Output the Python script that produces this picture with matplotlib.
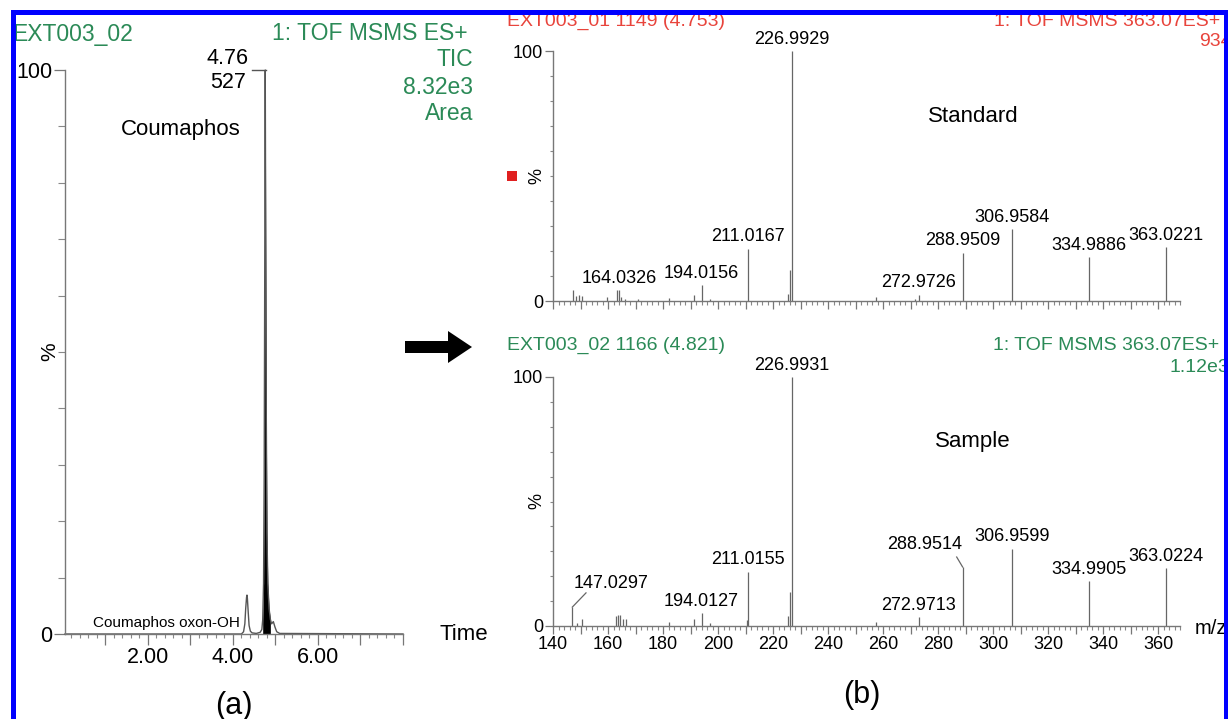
import numpy as np
import matplotlib
matplotlib.use("Agg")
import matplotlib.pyplot as plt
import matplotlib.patches as patches
from matplotlib.ticker import MultipleLocator, FixedLocator, FuncFormatter

plt.rcParams['font.family'] = ['Liberation Sans', 'DejaVu Sans']

W, H = 1228, 719
GREEN = '#2b8a57'
RED = '#e8443c'
GRAY = '#666666'

# chromatogram (a): retention time (min) vs. relative intensity (%)
tic_t = [0.05, 4.20, 4.25, 4.28, 4.30, 4.32, 4.33, 4.34, 4.36, 4.38, 4.41, 4.45, 4.55,
         4.64, 4.68, 4.70, 4.72, 4.735, 4.75, 4.76, 4.77, 4.785, 4.80, 4.82, 4.85, 4.88,
         4.91, 4.95, 4.99, 5.03, 5.10, 8.0]
tic_y = [0, 0, 0.4, 1.8, 4.5, 6.5, 6.9, 6.3, 3.8, 1.5, 0.5, 0.2, 0.1,
         0.3, 0.8, 2.5, 9, 28, 70, 100, 72, 38, 18, 9, 4.5, 2.6,
         1.8, 2.2, 1.2, 0.4, 0.1, 0]

# MS/MS spectrum of the standard
std_mz = [147.3, 148.5, 149.3, 150.4, 159.6, 163.3, 164.03, 164.7, 166.0, 171.0, 182.0,
          191.3, 194.02, 197.0, 211.02, 225.5, 226.2, 226.99, 257.5, 271.6, 272.97,
          288.95, 306.96, 334.99, 363.02]
std_int = [4.3, 2.0, 2.3, 2.2, 1.6, 4.3, 4.3, 1.5, 1.0, 0.8, 1.2,
           2.6, 6.4, 1.0, 21.0, 3.0, 12.6, 100, 1.7, 1.0, 2.6,
           19.3, 28.8, 17.5, 21.6]
std_labels = [(164.03, 4.3, '164.0326'), (194.02, 6.4, '194.0156'), (211.02, 21.0, '211.0167'),
              (226.99, 100, '226.9929'), (272.97, 2.6, '272.9726'), (288.95, 19.3, '288.9509'),
              (306.96, 28.8, '306.9584'), (334.99, 17.5, '334.9886'), (363.02, 21.6, '363.0221')]

# MS/MS spectrum of the sample
smp_mz = [147.03, 148.6, 150.5, 163.0, 163.6, 164.4, 165.5, 166.5, 182.0, 191.3, 194.01,
          197.0, 210.5, 211.02, 225.4, 226.3, 226.99, 257.5, 272.97, 288.95, 306.96,
          334.99, 363.02]
smp_int = [7.6, 1.2, 2.8, 4.0, 4.4, 4.6, 2.8, 2.8, 1.6, 2.8, 5.2,
           1.2, 2.4, 21.7, 4.0, 13.6, 100, 1.6, 3.6, 23.7, 31.0,
           18.0, 23.3]
smp_labels = [(194.01, 5.2, '194.0127'), (211.02, 21.7, '211.0155'), (226.99, 100, '226.9931'),
              (272.97, 3.6, '272.9713'), (306.96, 31.0, '306.9599'), (334.99, 18.0, '334.9905'),
              (363.02, 23.3, '363.0224')]


def px(x, y):
    return x / W, 1 - y / H


def rect(l, t, r, b):
    return [l / W, 1 - b / H, (r - l) / W, (b - t) / H]


fig = plt.figure(figsize=(W / 100, H / 100), dpi=100)


def style_axes(ax, fs, ymaj, ymin):
    for s in ['top', 'right']:
        ax.spines[s].set_visible(False)
    for s in ['left', 'bottom']:
        ax.spines[s].set_color('#777777')
        ax.spines[s].set_linewidth(1.0)
    ax.set_ylim(0, 100)
    ax.yaxis.set_major_locator(FixedLocator([0, 100]))
    ax.yaxis.set_minor_locator(MultipleLocator(10))
    ax.tick_params(axis='y', which='major', length=ymaj, width=0.9, color='#777777',
                   labelsize=fs, pad=1)
    ax.tick_params(axis='y', which='minor', length=ymin, width=0.8, color='#888888')
    ax.patch.set_alpha(0)


# ---- (a) chromatogram ----
axa = fig.add_axes(rect(65, 70, 403, 634))
style_axes(axa, 15.5, 8, 5)
t = np.array(tic_t)
y = np.array(tic_y)
axa.plot(t, y, color='#555555', lw=1.0, clip_on=False)
axa.fill_between(t, y, where=(t >= 4.69) & (t <= 4.90), color='black', lw=0)
axa.set_xlim(0.05, 8.0)
axa.xaxis.set_major_locator(MultipleLocator(1.0))
axa.xaxis.set_minor_locator(MultipleLocator(0.2))
axa.xaxis.set_major_formatter(FuncFormatter(
    lambda v, p: '%.2f' % v if abs(v - round(v)) < 1e-6 and int(round(v)) in (2, 4, 6) else ''))
axa.tick_params(axis='x', which='major', length=8, width=0.9, color='#777777',
                labelsize=15.5, pad=1.5)
axa.tick_params(axis='x', which='minor', length=3, width=0.8, color='#888888')
axa.text(-0.045, 50, '%', rotation=90, ha='center', va='center', fontsize=15,
         transform=axa.get_yaxis_transform())
axa.plot([4.45, 4.78], [100, 100], color='#555555', lw=1.0, clip_on=False)
axa.text(4.36, 102, '4.76', ha='right', va='center', fontsize=15.5)
axa.text(4.31, 97.7, '527', ha='right', va='center', fontsize=15.5)
axa.text(2.78, 89.5, 'Coumaphos', ha='center', va='center', fontsize=16)
axa.text(4.16, 2, 'Coumaphos oxon-OH', ha='right', va='center', fontsize=11)
fig.text(*px(440, 634), 'Time', ha='left', va='center', fontsize=16)

# ---- (b) spectra ----
ax_std = fig.add_axes(rect(553, 51, 1180, 301))
ax_smp = fig.add_axes(rect(553, 377, 1180, 626))
for ax, mz, inten, labels in [(ax_std, std_mz, std_int, std_labels),
                              (ax_smp, smp_mz, smp_int, smp_labels)]:
    style_axes(ax, 13, 6, 2.2)
    ax.vlines(mz, 0, inten, color=GRAY, lw=0.9)
    ax.set_xlim(140, 368)
    ax.xaxis.set_major_locator(MultipleLocator(10))
    ax.xaxis.set_minor_locator(MultipleLocator(2))
    ax.tick_params(axis='x', which='major', length=6, width=0.9, color='#777777',
                   labelsize=13, pad=1.5)
    ax.tick_params(axis='x', which='minor', length=3, width=0.8, color='#888888')
    ax.text(-0.025, 50, '%', rotation=90, ha='center', va='center', fontsize=13,
            transform=ax.get_yaxis_transform())
    for m, h, s in labels:
        ax.annotate(s, xy=(m, h), xytext=(0, 2.5), textcoords='offset points',
                    ha='center', va='bottom', fontsize=13, annotation_clip=False)

ax_std.xaxis.set_major_formatter(FuncFormatter(lambda v, p: ''))
ax_smp.xaxis.set_major_formatter(FuncFormatter(
    lambda v, p: '%d' % v if int(round(v)) % 20 == 0 else ''))

# leader-line labels in the sample spectrum
ax_smp.plot([147.03, 152.0], [7.6, 13.3], color=GRAY, lw=0.9)
ax_smp.text(161.0, 13.6, '147.0297', ha='center', va='bottom', fontsize=13)
ax_smp.plot([288.95, 286.8], [23.7, 27.7], color=GRAY, lw=0.9)
ax_smp.text(288.9, 29.2, '288.9514', ha='right', va='bottom', fontsize=13)

ax_std.text(0.67, 0.74, 'Standard', transform=ax_std.transAxes, ha='center', va='center', fontsize=16)
ax_smp.text(0.67, 0.74, 'Sample', transform=ax_smp.transAxes, ha='center', va='center', fontsize=16)
fig.text(*px(1195, 628), 'm/z', ha='left', va='center', fontsize=14.5)

# headers
fig.text(*px(12, 34), 'EXT003_02', color=GREEN, ha='left', va='center', fontsize=16.5)
fig.text(*px(468, 34), '1: TOF MSMS ES+', color=GREEN, ha='right', va='center', fontsize=16.5)
fig.text(*px(473, 60), 'TIC', color=GREEN, ha='right', va='center', fontsize=16.5)
fig.text(*px(473, 87), '8.32e3', color=GREEN, ha='right', va='center', fontsize=16.5)
fig.text(*px(473, 113), 'Area', color=GREEN, ha='right', va='center', fontsize=16.5)

fig.text(*px(507, 21), 'EXT003_01 1149 (4.753)', color=RED, ha='left', va='center', fontsize=14)
fig.text(*px(1220, 21), '1: TOF MSMS 363.07ES+', color=RED, ha='right', va='center', fontsize=14)
fig.text(*px(1232, 42), '934', color=RED, ha='right', va='center', fontsize=14)
fig.text(*px(507, 345), 'EXT003_02 1166 (4.821)', color=GREEN, ha='left', va='center', fontsize=14)
fig.text(*px(1219, 345), '1: TOF MSMS 363.07ES+', color=GREEN, ha='right', va='center', fontsize=14)
fig.text(*px(1229, 368), '1.12e3', color=GREEN, ha='right', va='center', fontsize=14)

# red marker next to the standard's % label
fig.add_artist(patches.Rectangle(px(507, 181), 10 / W, 10 / H, transform=fig.transFigure,
                                 color='#e02020', lw=0, zorder=5))

# panel letters
fig.text(*px(234, 706), '(a)', ha='center', va='center', fontsize=22)
fig.text(*px(862, 695), '(b)', ha='center', va='center', fontsize=22)

# arrow between panels
arrow = [(405, 341), (448, 341), (448, 331), (472, 347), (448, 363), (448, 353), (405, 353)]
fig.add_artist(patches.Polygon([px(a, b) for a, b in arrow], closed=True,
                               transform=fig.transFigure, color='black', lw=0, zorder=5))

# blue frame
fig.add_artist(patches.Rectangle((12.5 / W, -0.1), 1213 / W, 1.1 - 12.5 / H,
                                 transform=fig.transFigure, fill=False,
                                 edgecolor='#0000ff', lw=3.6, zorder=10))

fig.savefig('out.png', dpi=100, facecolor='white')
